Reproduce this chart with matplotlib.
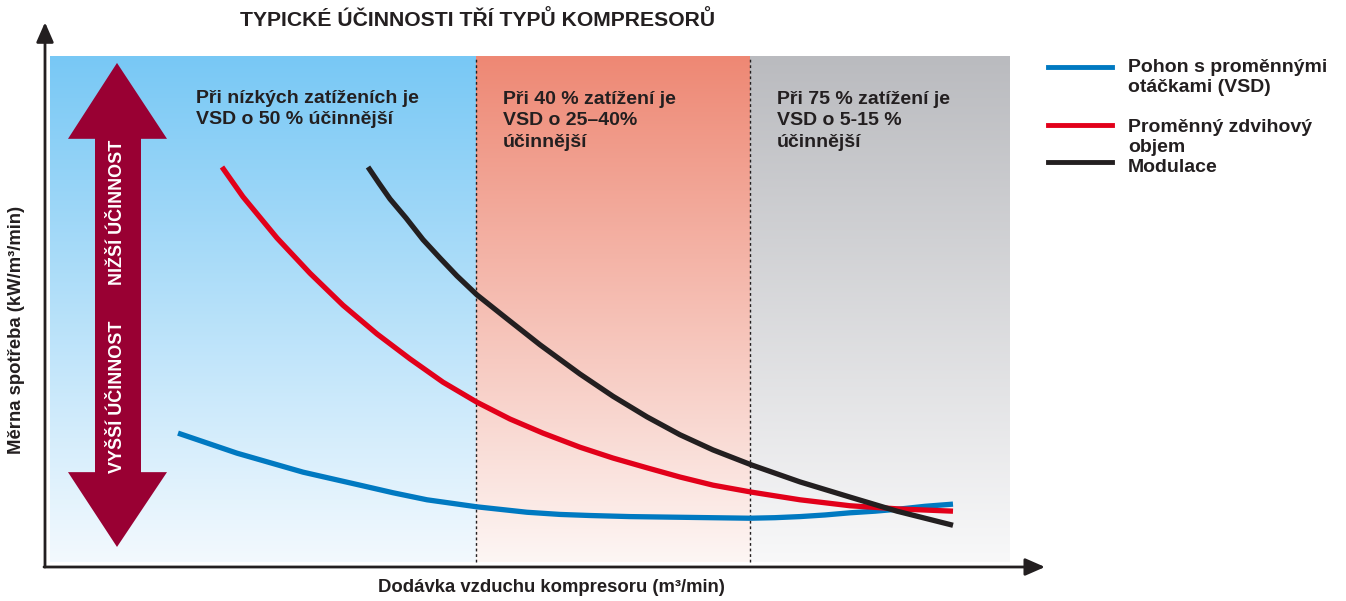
import numpy as np
import matplotlib.pyplot as plt
from matplotlib.patches import Polygon
from matplotlib.lines import Line2D

plt.rcParams['font.family'] = ['Liberation Sans', 'DejaVu Sans']
plt.rcParams['font.weight'] = 'bold'

dark = '#231F20'

# curves (x: air delivery, y: specific power, 0-100 of axis length)
vsd_x = [13.3, 19.2, 25.8, 31.5, 34.8, 38.2, 43.2, 48.2, 51.5, 54.5, 58.5, 62.5, 66.5, 70.5,
         73.0, 75.5, 78.0, 80.5, 83.0, 85.5, 88.0, 90.8]
vsd_y = [24.7, 21.0, 17.5, 15.1, 13.7, 12.4, 11.1, 10.1, 9.7, 9.5, 9.3, 9.2, 9.1, 9.0,
         9.1, 9.3, 9.6, 10.0, 10.3, 10.7, 11.2, 11.6]

vdisp_x = [17.7, 19.8, 23.2, 26.5, 29.8, 33.2, 36.5, 39.8, 43.2, 46.5, 49.8, 53.5, 56.8, 60.2,
           63.5, 66.8, 70.7, 75.5, 80.5, 85.5, 90.8]
vdisp_y = [73.8, 68.3, 60.7, 54.2, 48.3, 43.0, 38.4, 34.1, 30.4, 27.3, 24.7, 22.1, 20.1, 18.3,
           16.6, 15.1, 13.8, 12.4, 11.3, 10.7, 10.3]

mod_x = [32.3, 33.4, 34.5, 36.1, 37.8, 39.5, 41.2, 43.2, 46.2, 49.5, 53.5, 56.8, 60.2, 63.5,
         66.8, 70.7, 75.5, 80.5, 85.2, 90.8]
mod_y = [73.8, 70.8, 67.9, 64.4, 60.4, 57.0, 53.7, 50.2, 45.8, 41.0, 35.6, 31.5, 27.7, 24.4,
         21.6, 18.8, 15.7, 12.9, 10.3, 7.7]

series_names = ['Pohon s proměnnými\notáčkami (VSD)', 'Proměnný zdvihový\nobjem', 'Modulace']
series_colors = ['#0079C1', '#E2001A', '#231F20']

# load zones
zone_edges = [0.5, 43.1, 70.5, 96.5]
zone_top = [(120, 200, 245), (238, 136, 116), (186, 187, 191)]
zone_bottom = [(243, 249, 254), (253, 246, 244), (248, 248, 249)]
zone_texts = ['Při nízkých zatíženích je\nVSD o 50 % účinnější',
              'Při 40 % zatížení je\nVSD o 25–40%\núčinnější',
              'Při 75 % zatížení je\nVSD o 5-15 %\núčinnější']
zone_text_x = [15.1, 45.8, 73.2]

fig = plt.figure(figsize=(13.46, 6.01), dpi=100)
ax = fig.add_axes([45 / 1346, 34 / 601, 1000 / 1346, 542 / 601])

zone_y0, zone_y1 = 0.9, 94.1
for i in range(3):
    top = np.array(zone_top[i]) / 255
    bot = np.array(zone_bottom[i]) / 255
    t = np.linspace(0, 1, 256)[:, None]
    grad = (top * (1 - t) + bot * t)[:, None, :]
    ax.imshow(grad, extent=[zone_edges[i], zone_edges[i + 1], zone_y0, zone_y1],
              aspect='auto', origin='upper', zorder=0, interpolation='bilinear')
    # va='baseline' on multi-line text pins the last line
    n_lines = zone_texts[i].count('\n')
    ax.text(zone_text_x[i], (567 - 102 - 22.5 * n_lines) / 5.42, zone_texts[i], fontsize=14,
            color=dark, va='baseline', ha='left', linespacing=1.36, zorder=3)

for xe in zone_edges[1:3]:
    ax.plot([xe, xe], [zone_y0, zone_y1], color=dark, lw=1, ls=(0, (2, 2)), zorder=1)

ax.plot(vsd_x, vsd_y, color=series_colors[0], lw=3.8, solid_capstyle='butt',
        solid_joinstyle='round', zorder=4)
ax.plot(vdisp_x, vdisp_y, color=series_colors[1], lw=3.8, solid_capstyle='butt',
        solid_joinstyle='round', zorder=4)
ax.plot(mod_x, mod_y, color=series_colors[2], lw=3.8, solid_capstyle='butt',
        solid_joinstyle='round', zorder=5)

# double arrow on the left
arrow = Polygon([(7.2, 93.0), (12.2, 79.0), (9.6, 79.0), (9.6, 17.5), (12.2, 17.5), (7.2, 3.7),
                 (2.3, 17.5), (5.0, 17.5), (5.0, 79.0), (2.3, 79.0)],
                closed=True, facecolor='#990033', edgecolor='none', zorder=3)
ax.add_patch(arrow)
ax.text(7.3, 65.5, 'NIŽŠÍ ÚČINNOST', rotation=90, color='white', fontsize=13,
        ha='center', va='center', zorder=4)
ax.text(7.3, 31.5, 'VYŠŠÍ ÚČINNOST', rotation=90, color='white', fontsize=13,
        ha='center', va='center', zorder=4)

ax.set_xlim(0, 100)
ax.set_ylim(0, 100)
ax.axis('off')

arrowstyle = '-|>,head_length=0.8,head_width=0.35'
ax.annotate('', xy=(0, 1.005), xytext=(0, 0), xycoords='axes fraction',
            arrowprops=dict(arrowstyle=arrowstyle, lw=2, color=dark, mutation_scale=15,
                            shrinkA=0, shrinkB=0))
ax.annotate('', xy=(1, 0), xytext=(-0.001, 0), xycoords='axes fraction',
            arrowprops=dict(arrowstyle=arrowstyle, lw=2, color=dark, mutation_scale=15,
                            shrinkA=0, shrinkB=0))

fig.text(478 / 1346, 1 - 20 / 601, 'TYPICKÉ ÚČINNOSTI TŘÍ TYPŮ KOMPRESORŮ',
         fontsize=15.2, color=dark, ha='center', va='center')
fig.text(551 / 1346, 1 - 588 / 601, 'Dodávka vzduchu kompresoru (m³/min)',
         fontsize=13.3, color=dark, ha='center', va='center')
fig.text(17 / 1346, 1 - 330 / 601, 'Měrna spotřeba (kW/m³/min)', rotation=90,
         fontsize=13.3, color=dark, ha='center', va='center')

# legend
leg_line_y = [67, 125, 162]
leg_text_y = [92.5, 152.5, 172]   # baseline of the last line of each label
for name, col, yy, ty in zip(series_names, series_colors, leg_line_y, leg_text_y):
    fig.add_artist(Line2D([1048 / 1346, 1112 / 1346], [1 - yy / 601, 1 - yy / 601],
                          color=col, lw=3.5, transform=fig.transFigure))
    fig.text(1128 / 1346, 1 - ty / 601, name, fontsize=14, color=dark,
             ha='left', va='baseline', linespacing=1.24)

plt.savefig('out.png', dpi=100)
